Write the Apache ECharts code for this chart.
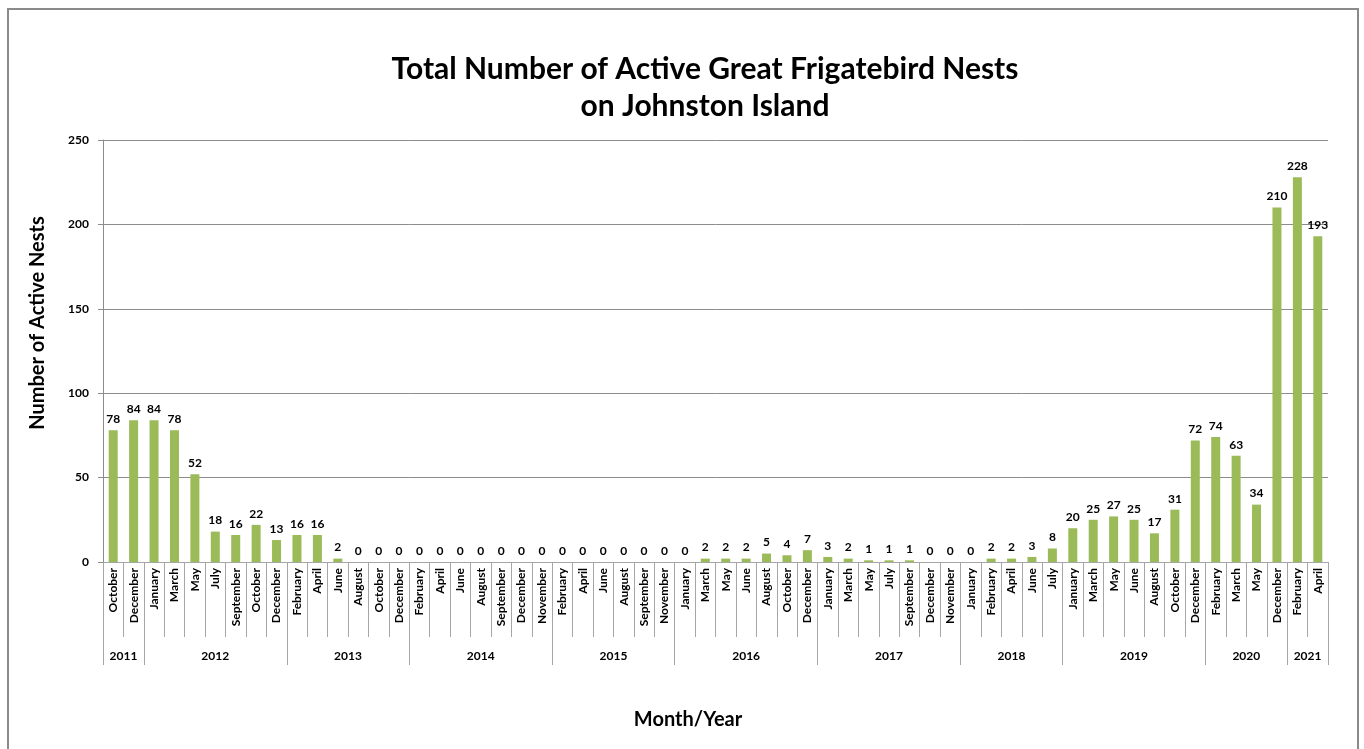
<!DOCTYPE html>
<html>
<head>
<meta charset="utf-8">
<title>Active Great Frigatebird Nests on Johnston Island</title>
<script src="https://cdn.jsdelivr.net/npm/echarts@6/dist/echarts.min.js"></script>
<style>
  html, body { margin: 0; padding: 0; background: #ffffff; }
  #chart { width: 1364px; height: 749px; }
</style>
</head>
<body>
<div id="chart"></div>
<script>
// Survey months (in order) and the number of active nests counted
const months = [
  'October', 'December',
  'January', 'March', 'May', 'July', 'September', 'October', 'December',
  'February', 'April', 'June', 'August', 'October', 'December',
  'February', 'April', 'June', 'August', 'September', 'December', 'November',
  'February', 'April', 'June', 'August', 'September', 'November',
  'January', 'March', 'May', 'June', 'August', 'October', 'December',
  'January', 'March', 'May', 'July', 'September', 'December', 'November',
  'January', 'February', 'April', 'June', 'July',
  'January', 'March', 'May', 'June', 'August', 'October', 'December',
  'February', 'March', 'May', 'December',
  'February', 'April'
];
const nests = [
  78, 84,
  84, 78, 52, 18, 16, 22, 13,
  16, 16, 2, 0, 0, 0,
  0, 0, 0, 0, 0, 0, 0,
  0, 0, 0, 0, 0, 0,
  0, 2, 2, 2, 5, 4, 7,
  3, 2, 1, 1, 1, 0, 0,
  0, 2, 2, 3, 8,
  20, 25, 27, 25, 17, 31, 72,
  74, 63, 34, 210,
  228, 193
];
// Year groups along the lower axis row: label and number of surveys in it
const years = ['2011', '2012', '2013', '2014', '2015', '2016', '2017', '2018', '2019', '2020', '2021'];
const surveysPerYear = [2, 7, 6, 7, 6, 7, 7, 5, 7, 4, 2];
const yTicks = [0, 50, 100, 150, 200, 250];

// Boundaries and centres of each year group, in category units
const yearEdges = [0];
surveysPerYear.forEach(n => yearEdges.push(yearEdges[yearEdges.length - 1] + n));
const yearCentres = years.map((y, i) => (yearEdges[i] + yearEdges[i + 1]) / 2);

const FONT = 'Lato, "Open Sans", sans-serif';
const GRID_GRAY = '#8c8c8c';
const AXIS_GRAY = '#a6a6a6';

const chart = echarts.init(document.getElementById('chart'), null, { renderer: 'canvas' });

chart.setOption({
  backgroundColor: '#ffffff',
  animation: false,
  title: {
    text: 'Total Number of Active Great Frigatebird Nests\non Johnston Island',
    left: 700,
    textAlign: 'center',
    top: 46,
    textStyle: {
      fontFamily: FONT,
      fontSize: 30,
      fontWeight: 'bold',
      lineHeight: 37,
      color: '#000000'
    }
  },
  graphic: [{
    type: 'rect',
    shape: { x: 8, y: 9, width: 1350, height: 760 },
    style: { fill: 'none', stroke: '#8a8a8a', lineWidth: 2 },
    silent: true,
    z: -1
  }, {
    // vertical axis title
    type: 'text',
    x: 38,
    y: 323,
    rotation: Math.PI / 2,
    style: {
      text: 'Number of Active Nests',
      fontFamily: FONT,
      fontSize: 20,
      fontWeight: 'bold',
      fill: '#000',
      align: 'center',
      verticalAlign: 'middle'
    },
    silent: true
  }, {
    // horizontal axis title
    type: 'text',
    x: 688,
    y: 720,
    style: {
      text: 'Month/Year',
      fontFamily: FONT,
      fontSize: 20,
      fontWeight: 'bold',
      fill: '#000',
      align: 'center',
      verticalAlign: 'middle'
    },
    silent: true
  }],
  grid: { left: 103, right: 36, top: 140, bottom: 187, containLabel: false },
  xAxis: [{
    type: 'category',
    data: months,
    boundaryGap: true,
    axisLine: { show: true, lineStyle: { color: AXIS_GRAY, width: 1 } },
    axisTick: { show: true, interval: 0, length: 75, lineStyle: { color: AXIS_GRAY } },
    axisLabel: {
      interval: 0,
      rotate: 90,
      margin: 6,
      fontFamily: FONT,
      fontSize: 12,
      fontWeight: 'bold',
      color: '#000'
    },
    splitLine: { show: false }
  }, {
    type: 'value',
    min: 0,
    max: months.length,
    position: 'bottom',
    offset: 75,
    axisLine: { show: false },
    axisTick: {
      show: true,
      length: 28,
      customValues: yearEdges,
      lineStyle: { color: AXIS_GRAY }
    },
    axisLabel: {
      show: true,
      margin: 13,
      customValues: yearCentres,
      formatter: v => {
        const i = yearCentres.indexOf(v);
        return i >= 0 ? years[i] : '';
      },
      fontFamily: FONT,
      fontSize: 12,
      fontWeight: 'bold',
      color: '#000'
    },
    splitLine: { show: false }
  }],
  yAxis: {
    type: 'value',
    min: yTicks[0],
    max: yTicks[yTicks.length - 1],
    interval: 50,
    axisLine: { show: true, lineStyle: { color: GRID_GRAY, width: 1 } },
    axisTick: { show: true, length: 5, lineStyle: { color: GRID_GRAY } },
    axisLabel: {
      margin: 14,
      fontFamily: FONT,
      fontSize: 12,
      fontWeight: 'bold',
      color: '#000'
    },
    splitLine: { show: true, lineStyle: { color: GRID_GRAY, width: 1 } }
  },
  series: [{
    type: 'bar',
    data: nests,
    barWidth: 9,
    itemStyle: { color: '#9bbb59' },
    label: {
      show: true,
      position: 'top',
      distance: 5,
      fontFamily: FONT,
      fontSize: 12,
      fontWeight: 'bold',
      color: '#000'
    }
  }]
});
</script>
</body>
</html>
